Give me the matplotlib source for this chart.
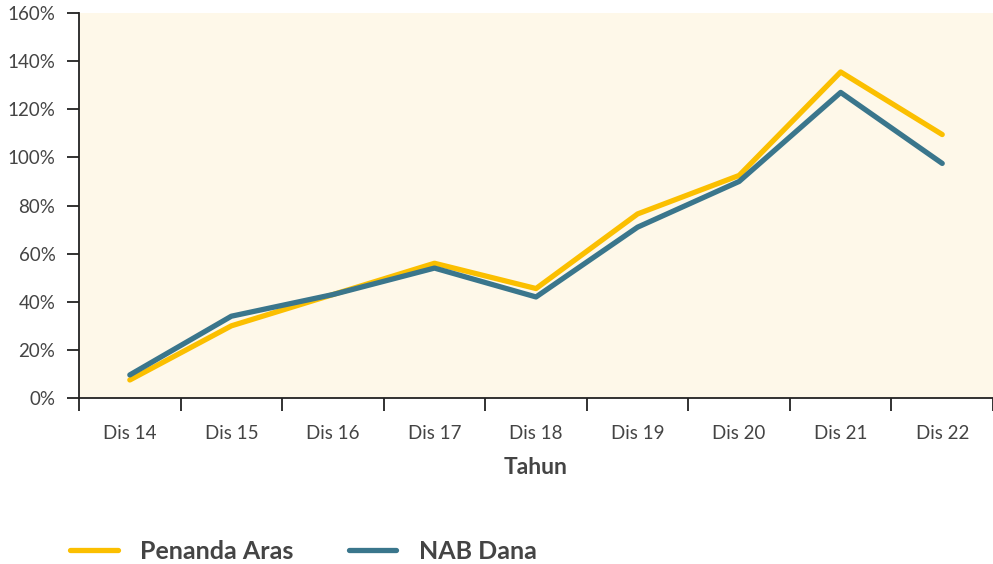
import numpy as np
from matplotlib import pyplot as plt

# Nilai (dalam persen)
tahun = ['Dis 14', 'Dis 15', 'Dis 16', 'Dis 17', 'Dis 18',
         'Dis 19', 'Dis 20', 'Dis 21', 'Dis 22']
penanda_aras = [7.5, 30.0, 43.0, 56.0, 45.5, 76.5, 92.5, 135.5, 109.5]
nab_dana = [9.6, 34.0, 43.0, 54.0, 42.0, 71.0, 90.0, 127.0, 97.5]

plt.rcParams['font.family'] = ['Lato', 'DejaVu Sans']
teks = '#444444'

fig = plt.figure(figsize=(9.93, 5.64), dpi=100)
ax = fig.add_axes([0.0796, 0.2943, 0.9204, 0.6826])
ax.set_facecolor('#FEF8E9')

x = np.arange(len(tahun))
ax.plot(x, penanda_aras, color='#FBBF00', lw=3.8, solid_capstyle='round',
        label='Penanda Aras')
ax.plot(x, nab_dana, color='#3A768C', lw=3.8, solid_capstyle='round',
        label='NAB Dana')

ax.set_xlim(-0.5, len(tahun) - 0.5)
ax.set_ylim(0, 160)
ax.set_yticks(np.arange(0, 161, 20))
ax.set_yticklabels([f'{v}%' for v in range(0, 161, 20)])
ax.set_xticks(x)
ax.set_xticklabels(tahun)
ax.set_xticks(np.arange(-0.5, len(tahun)), minor=True)
ax.tick_params(axis='x', which='major', length=0, pad=19.5,
               labelsize=13.5, labelcolor=teks)
ax.tick_params(axis='x', which='minor', length=9, width=1.3, color='#222222')
ax.tick_params(axis='y', length=9, width=1.3, color='#222222',
               labelsize=13.5, labelcolor=teks, pad=8)

for s in ['top', 'right']:
    ax.spines[s].set_visible(False)
for s in ['left', 'bottom']:
    ax.spines[s].set_linewidth(1.3)
    ax.spines[s].set_color('#222222')

ax.set_xlabel('Tahun', fontsize=16.5, fontweight='bold', color=teks,
              labelpad=11)

fig.legend(loc='lower left', bbox_to_anchor=(0.048, -0.038), ncol=2,
           frameon=False, handlelength=1.9, handletextpad=0.9,
           columnspacing=2.2, prop={'size': 18, 'weight': 'bold'},
           labelcolor=teks)

plt.savefig('out.png', dpi=100)
